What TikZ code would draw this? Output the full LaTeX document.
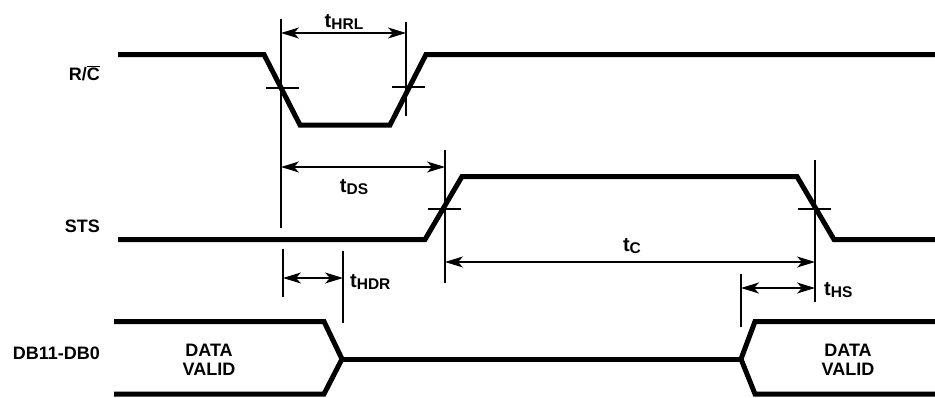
\documentclass[tikz,border=0pt]{standalone}
\usepackage{fontspec}
\setmainfont{Liberation Sans}
\usetikzlibrary{arrows.meta}
\tikzset{
    sig/.style={line width=5pt, line cap=butt, line join=miter},
    guide/.style={line width=1.5pt},
    dim/.style={
        line width=1.5pt,
        {Stealth[length=18pt,width=11pt,inset=5pt]}-{Stealth[length=18pt,width=11pt,inset=5pt]}
    },
    lbl/.style={inner sep=0pt, font=\fontsize{18}{18.5}\selectfont\bfseries}
}
\newcommand{\tlab}[1]{{\fontsize{20}{20}\selectfont t}\raisebox{-2.5pt}{\fontsize{15.5}{15.5}\selectfont #1}}

\begin{document}
\begin{tikzpicture}[x=1pt, y=-1pt]
        \useasboundingbox (0,0) rectangle (935,397);

        % Nomi dei segnali
        \node[lbl, anchor=base east] (rc)  at (100,80)  {R/$\overline{\hbox{C}}$};
        \node[lbl, anchor=base east] (sts) at (100,232) {STS};
        \node[lbl, anchor=base east] (db)  at (100,359) {DB11-DB0};

        % Forme d'onda
        \draw[sig] (118,54.5) -- (264,54.5) -- (300,125) -- (390,125) -- (426,54.5) -- (935,54.5); % R/C
        \draw[sig] (118,239.5) -- (425,239.5) -- (462,176.5) -- (797,176.5) -- (834,239.5) -- (935,239.5); % STS
        \draw[sig] (114,321.5) -- (324,321.5) -- (342,359) -- (324,394) -- (114,394); % dati validi (sx)
        \draw[sig] (342,359) -- (741,359); % dati non validi
        \draw[sig] (935,321.5) -- (755,321.5) -- (741,359) -- (755,394) -- (935,394); % dati validi (dx)
        \node[lbl, align=center] (dv1) at (209,360) {DATA\\VALID};
        \node[lbl, align=center] (dv2) at (848,360) {DATA\\VALID};

        % Tacche di soglia sui fronti
        \draw[guide] (266,88) -- (299,88);
        \draw[guide] (392,87) -- (425,87);
        \draw[guide] (428,209) -- (461,209);
        \draw[guide] (798,209) -- (831,209);

        % Linee di riferimento verticali
        \coordinate (hrlA) at (281,33);  \draw[guide] (281,19)  -- (281,228);
        \coordinate (hrlB) at (406,33);  \draw[guide] (406,22)  -- (406,116);
        \coordinate (dsA)  at (281,167);
        \coordinate (dsB)  at (445,167); \draw[guide] (445,150) -- (445,283);
        \coordinate (cA)   at (445,262);
        \coordinate (cB)   at (815,262); \draw[guide] (815,160) -- (815,302);
        \coordinate (hdrA) at (283,278); \draw[guide] (283,249) -- (283,297);
        \coordinate (hdrB) at (343,278); \draw[guide] (343,251) -- (343,323);
        \coordinate (hsA)  at (741,288); \draw[guide] (741,274) -- (741,327);
        \coordinate (hsB)  at (815,288);

        % Quote temporali
        \draw[dim] (hrlA) -- (hrlB);
        \draw[dim] (dsA) -- (dsB);
        \draw[dim] (cA) -- (cB);
        \draw[dim] (hdrA) -- (hdrB);
        \draw[dim] (hsA) -- (hsB);
        \node[lbl, anchor=base]      (thrl) at (344,27)  {\tlab{HRL}};
        \node[lbl, anchor=base]      (tds)  at (354,192) {\tlab{DS}};
        \node[lbl, anchor=base]      (tc)   at (632,251) {\tlab{C}};
        \node[lbl, anchor=base west] (thdr) at (350,287) {\tlab{HDR}};
        \node[lbl, anchor=base west] (ths)  at (824,295) {\tlab{HS}};
    \end{tikzpicture}
\end{document}
